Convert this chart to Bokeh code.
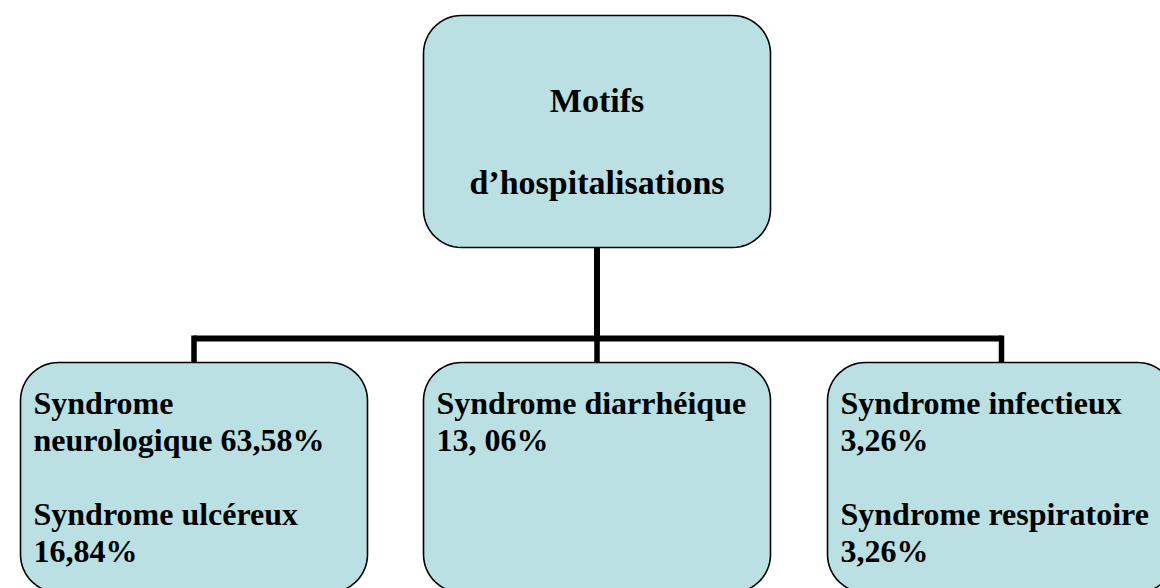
import numpy as np
from bokeh.plotting import figure
from bokeh.models import Range1d
from bokeh.embed import file_html
from bokeh.resources import INLINE
from bokeh.core.properties import value

# ---- data (texts of the diagram) ----
root_lines = ["Motifs", "", "d\u2019hospitalisations"]
syndromes = ["Syndrome neurologique", "Syndrome ulc\u00e9reux", "Syndrome diarrh\u00e9ique",
             "Syndrome infectieux", "Syndrome respiratoire"]
percents = ["63,58%", "16,84%", "13, 06%", "3,26%", "3,26%"]
box_lines = [
    ["Syndrome", "neurologique " + percents[0], "", syndromes[1], percents[1]],
    [syndromes[2], percents[2]],
    [syndromes[3], percents[3], "", syndromes[4], percents[4]],
]

# ---- layout (pixel-like coordinates, y downwards) ----
W, H = 1160, 588
FILL = "#BAE0E3"
FONT = "Liberation Serif"

root_box = (423, 15, 770, 247)          # left, top, right, bottom
child_lefts = [20, 423, 827]
child_widths = [347, 347, 348]
child_top, child_bottom = 362, 592
bus_y = 338
RAD = 38


def rrect(l, t, r, b, rad, n=16):
    xs, ys = [], []
    for cx, cy, a0 in [(l + rad, t + rad, 180), (r - rad, t + rad, 270),
                       (r - rad, b - rad, 0), (l + rad, b - rad, 90)]:
        ang = np.radians(np.linspace(a0, a0 + 90, n))
        xs.extend(cx + rad * np.cos(ang))
        ys.extend(cy + rad * np.sin(ang))
    return xs, ys


p = figure(width=W, height=H, output_backend="svg", toolbar_location=None,
           x_range=Range1d(0, W), y_range=Range1d(H, 0),
           min_border=0)
p.axis.visible = False
p.grid.visible = False
p.outline_line_color = None
p.background_fill_color = "white"

# connectors
root_cx = (root_box[0] + root_box[2]) / 2
child_cx = [l + w / 2 for l, w in zip(child_lefts, child_widths)]
p.line([root_cx, root_cx], [root_box[3], bus_y], line_color="black", line_width=6)
p.line([child_cx[0], child_cx[-1]], [bus_y, bus_y], line_color="black", line_width=6)
for cx in child_cx:
    p.line([cx, cx], [bus_y - 3, child_top], line_color="black", line_width=5.5)

# boxes
bx, by = [], []
x, y = rrect(*root_box, RAD)
bx.append(x); by.append(y)
for l, w in zip(child_lefts, child_widths):
    x, y = rrect(l, child_top, l + w, child_bottom, RAD)
    bx.append(x); by.append(y)
p.patches(bx, by, fill_color=FILL, line_color="black", line_width=1.6)

# root text
ry0 = 100
root_step = 41
for i, t in enumerate(root_lines):
    if t:
        p.text([root_cx], [ry0 + i * root_step], text=[t], text_font=value(FONT),
               text_font_style="bold", text_font_size="34px", text_align="center",
               text_baseline="alphabetic", text_color="black")

# child texts
line_h = 37
for l, lines in zip(child_lefts, box_lines):
    xs, ys, ts = [], [], []
    for i, t in enumerate(lines):
        if t:
            xs.append(l + 13)
            ys.append(child_top + 40 + i * line_h)
            ts.append(t)
    p.text(xs, ys, text=ts, text_font=value(FONT), text_font_style="bold",
           text_font_size="32px", text_align="left", text_baseline="alphabetic",
           text_color="black")

open("out.html", "w").write(file_html(p, INLINE))
